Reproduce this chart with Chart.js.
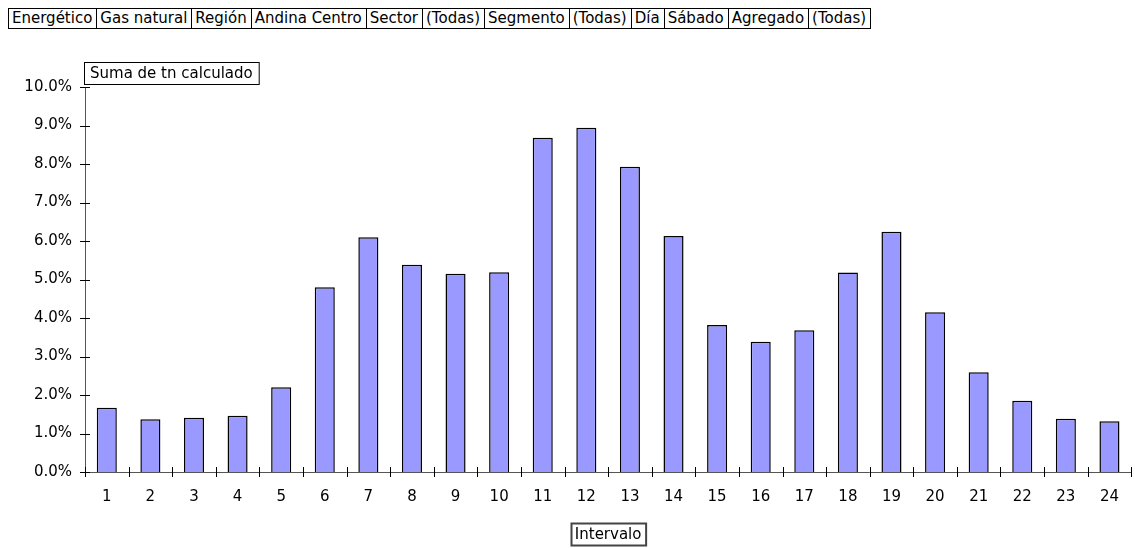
<!DOCTYPE html>
<html>
<head>
<meta charset="utf-8">
<script src="https://cdn.jsdelivr.net/npm/chart.js@4"></script>
<style>
  html, body { margin: 0; padding: 0; background: #fff; }
  body { width: 1135px; height: 548px; position: relative; overflow: hidden; font-family: "DejaVu Sans", Verdana, sans-serif; }
  #filtros { position: absolute; left: 8px; top: 8px; border-collapse: collapse; font-size: 15px; color: #000; }
  #filtros td { border: 1px solid #000; padding: 0 4px 0 3px; height: 19px; line-height: 19px; white-space: nowrap; }
  #wrap { position: absolute; left: 0; top: 0; width: 1135px; height: 548px; }
</style>
</head>
<body>
<table id="filtros"><tr></tr></table>
<div id="wrap"><canvas id="grafico"></canvas></div>
<script>
// Pivot filter fields (label / value pairs)
const filtros = ['Energético', 'Gas natural', 'Región', 'Andina Centro', 'Sector', '(Todas)',
  'Segmento', '(Todas)', 'Día', 'Sábado', 'Agregado', '(Todas)'];

const intervalos = ['1', '2', '3', '4', '5', '6', '7', '8', '9', '10', '11', '12',
  '13', '14', '15', '16', '17', '18', '19', '20', '21', '22', '23', '24'];

// Suma de tn calculado, in percent
const valores = [1.67, 1.37, 1.41, 1.46, 2.20, 4.80, 6.10, 5.38, 5.15, 5.19, 8.68, 8.94,
  7.93, 6.13, 3.82, 3.38, 3.68, 5.18, 6.24, 4.15, 2.59, 1.85, 1.38, 1.32];

const campoDatos = 'Suma de tn calculado';
const tituloX = 'Intervalo';

const FONT = '"DejaVu Sans", Verdana, sans-serif';
const AXIS_COLOR = '#555555';

const row = document.querySelector('#filtros tr');
filtros.forEach(txt => {
  const td = document.createElement('td');
  td.textContent = txt;
  row.appendChild(td);
});

// draws axis lines, crossing tick marks and the boxed field labels
const ejesPlugin = {
  id: 'ejes',
  afterDraw(chart) {
    const ctx = chart.ctx;
    const x = chart.scales.x;
    const y = chart.scales.y;
    const area = chart.chartArea;
    ctx.save();
    ctx.strokeStyle = AXIS_COLOR;
    ctx.lineWidth = 1;
    ctx.beginPath();
    ctx.moveTo(area.left + 0.5, area.top);
    ctx.lineTo(area.left + 0.5, area.bottom);
    ctx.moveTo(area.left, area.bottom + 0.5);
    ctx.lineTo(area.right, area.bottom + 0.5);
    ctx.stroke();

    ctx.strokeStyle = '#000';
    ctx.beginPath();
    y.ticks.forEach((t, i) => {
      const py = Math.round(y.getPixelForTick(i)) + 0.5;
      ctx.moveTo(area.left - 5, py);
      ctx.lineTo(area.left + 5, py);
    });
    for (let i = 0; i <= intervalos.length; i++) {
      const px = Math.round(area.left + (area.right - area.left) * i / intervalos.length) + 0.5;
      ctx.moveTo(px, area.bottom - 5);
      ctx.lineTo(px, area.bottom + 5);
    }
    ctx.stroke();

    ctx.font = '15px ' + FONT;
    ctx.textBaseline = 'middle';
    // data field button
    const w1 = ctx.measureText(campoDatos).width;
    ctx.fillStyle = '#fff';
    ctx.fillRect(area.left - 1, 62, w1 + 12, 22);
    ctx.strokeRect(area.left - 0.5, 62.5, w1 + 12, 22);
    ctx.fillStyle = '#000';
    ctx.textAlign = 'left';
    ctx.fillText(campoDatos, area.left + 5, 74);

    // axis field button
    const w2 = ctx.measureText(tituloX).width;
    const cx = (area.left + area.right) / 2;
    const bx = Math.round(cx - (w2 + 8) / 2) + 0.5;
    ctx.strokeStyle = '#444';
    ctx.lineWidth = 2;
    ctx.strokeRect(bx, 523.5, w2 + 8, 22);
    ctx.fillStyle = '#000';
    ctx.textAlign = 'center';
    ctx.fillText(tituloX, cx, 535);
    ctx.restore();
  }
};

new Chart(document.getElementById('grafico'), {
  type: 'bar',
  data: {
    labels: intervalos,
    datasets: [{
      label: campoDatos,
      data: valores,
      backgroundColor: '#9999FF',
      borderColor: '#000000',
      borderWidth: 1.5,
      barPercentage: 0.46,
      categoryPercentage: 1.0
    }]
  },
  options: {
    responsive: true,
    maintainAspectRatio: false,
    animation: false,
    layout: { padding: { top: 87, right: 0, bottom: 0, left: 0 } },
    plugins: {
      legend: { display: false },
      tooltip: { enabled: false }
    },
    scales: {
      x: {
        grid: { display: false, drawTicks: false },
        border: { display: false },
        ticks: { color: '#000', font: { family: FONT, size: 15 }, padding: 16, maxRotation: 0, autoSkip: false },
        afterFit: s => { s.height = 76; }
      },
      y: {
        min: 0,
        max: 10,
        grid: { display: false, drawTicks: false },
        border: { display: false },
        ticks: {
          stepSize: 1,
          color: '#000',
          font: { family: FONT, size: 15 },
          padding: 13,
          callback: v => v.toFixed(1) + '%'
        },
        afterFit: s => { s.width = 85; }
      }
    }
  },
  plugins: [ejesPlugin]
});
</script>
</body>
</html>
